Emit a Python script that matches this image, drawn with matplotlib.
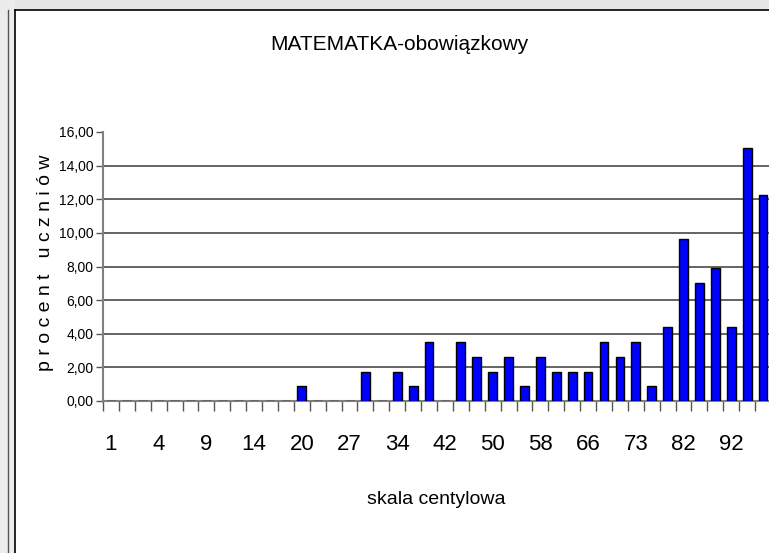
import matplotlib
matplotlib.use("Agg")
import matplotlib.pyplot as plt
from matplotlib.ticker import FuncFormatter
from matplotlib.patches import Rectangle
from matplotlib.lines import Line2D
import numpy as np

plt.rcParams['font.family'] = ['Liberation Sans', 'DejaVu Sans']

# percent of students per centile category (42 categories)
percent = [0, 0, 0, 0, 0, 0, 0, 0, 0, 0, 0, 0,
           0.88, 0, 0, 0, 1.75, 0, 1.75, 0.88, 3.51, 0,
           3.51, 2.63, 1.75, 2.63, 0.88, 2.63, 1.75, 1.75, 1.75, 3.51,
           2.63, 3.51, 0.88, 4.39, 9.65, 7.02, 7.89, 4.39, 15.04, 12.28]

# labels shown on every third category
tick_labels = ["1", "4", "9", "14", "20", "27", "34", "42", "50", "58", "66", "73", "82", "92"]
label_step = 3

title = "MATEMATKA-obowiązkowy"
xlabel = "skala centylowa"
ylabel = "p r o c e n t   u c z n i ó w"

W, H = 769, 553
fig = plt.figure(figsize=(W / 100, H / 100), dpi=100)

# window-like frame around the chart
fig.patches.append(Rectangle((0, 1 - 9 / H), 1, 9 / H, transform=fig.transFigure,
                             facecolor="#e6e6e6", edgecolor="none"))
fig.patches.append(Rectangle((0, 0), 15 / W, 1, transform=fig.transFigure,
                             facecolor="#ececec", edgecolor="none"))
fig.lines.append(Line2D([15 / W, 1], [1 - 10 / H] * 2, transform=fig.transFigure,
                        color="black", lw=1.2))
fig.lines.append(Line2D([15 / W] * 2, [0, 1 - 10 / H], transform=fig.transFigure,
                        color="black", lw=1.2))
fig.lines.append(Line2D([8 / W] * 2, [0, 1 - 10 / H], transform=fig.transFigure,
                        color="#555555", lw=1.0))

# plot area
left, bottom, top = 103, 401, 132
ax = fig.add_axes([left / W, (H - bottom) / H, 668 / W, (bottom - top) / H])

x = np.arange(len(percent))
ax.bar(x, percent, width=0.55, color="#0000ff", edgecolor="black", linewidth=1.0, zorder=3)

ax.set_xlim(-0.5, len(percent) - 0.5)
ax.set_ylim(0, 16)
ax.set_yticks(np.arange(0, 17, 2))
ax.yaxis.set_major_formatter(FuncFormatter(lambda v, p: f"{v:.2f}".replace(".", ",")))
for yv in range(2, 16, 2):
    ax.axhline(yv, color="#4a4a4a", lw=1.2, zorder=1)

ax.set_xticks(x[::label_step])
ax.set_xticklabels(tick_labels)
ax.set_xticks(np.arange(-0.5, len(percent), 1), minor=True)
ax.tick_params(axis="x", which="major", length=0, labelsize=16, pad=24)
ax.tick_params(axis="x", which="minor", length=7, width=1.0, color="#555555", direction="out")
ax.tick_params(axis="y", length=5, width=1.0, color="#555555", labelsize=10, pad=2)

for s in ["top", "right"]:
    ax.spines[s].set_visible(False)
ax.spines["left"].set_color("#808080")
ax.spines["left"].set_linewidth(1.5)
ax.spines["bottom"].set_color("#808080")
ax.spines["bottom"].set_linewidth(1.5)

fig.text(399 / W, 1 - 45 / H, title, ha="center", va="center", fontsize=15)
fig.text(436 / W, 1 - 500 / H, xlabel, ha="center", va="center", fontsize=14)
fig.text(46 / W, 1 - 263 / H, ylabel, ha="center", va="center", rotation=90, fontsize=14)

fig.savefig("out.png", dpi=100)
